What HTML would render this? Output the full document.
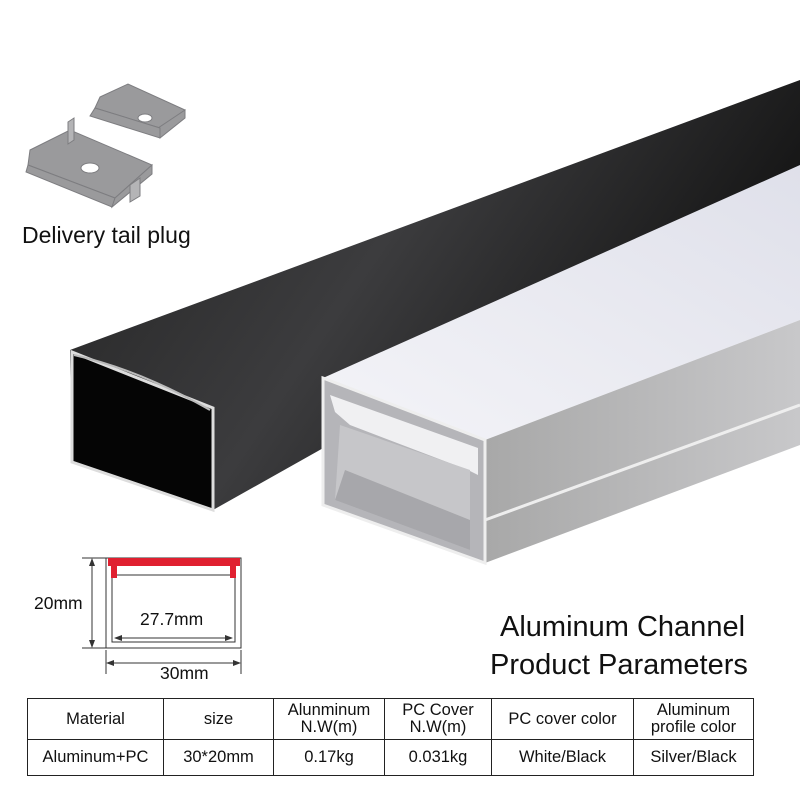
<!DOCTYPE html>
<html><head><meta charset="utf-8"><style>
html,body{margin:0;padding:0;background:#fff;}
body{width:800px;height:800px;position:relative;overflow:hidden;font-family:"Liberation Sans",sans-serif;}
.t{position:absolute;color:#111;white-space:nowrap;}
table{position:absolute;left:27px;top:698px;border-collapse:collapse;font-size:16.5px;color:#111;}
td{border:1.5px solid #222;text-align:center;padding:0;line-height:17px;white-space:nowrap;}
</style></head><body>
<svg width="800" height="800" style="position:absolute;left:0;top:0">
<defs>
<linearGradient id="bk" x1="0" y1="0" x2="1" y2="0.4"><stop offset="0" stop-color="#222"/><stop offset="0.5" stop-color="#3c3c3e"/><stop offset="1" stop-color="#111"/></linearGradient>
<linearGradient id="wc" x1="0" y1="1" x2="1" y2="0"><stop offset="0" stop-color="#f4f4f8"/><stop offset="1" stop-color="#dfe0ea"/></linearGradient>
<linearGradient id="gs" x1="0" y1="0" x2="1" y2="0"><stop offset="0" stop-color="#a8a8a8"/><stop offset="1" stop-color="#c8c8ca"/></linearGradient>
</defs>
<g fill="#9a9a9c" stroke="#7d7d80" stroke-width="1">
<polygon points="100,97 128,84 185,110 160,128 95,108"/>
<polygon points="158,128 185,110 185,118 160,138"/>
<polygon points="95,108 160,128 160,138 90,116"/>
<ellipse cx="145" cy="118" rx="7" ry="4" fill="#fff"/>
<polygon points="30,150 70,130 152,165 115,198 28,165"/>
<polygon points="28,165 115,198 112,207 26,172"/>
<polygon points="115,198 152,165 152,174 112,207"/>
<ellipse cx="90" cy="168" rx="9" ry="5" fill="#fff"/>
<polygon points="68,122 74,118 74,140 68,144" fill="#b4b4b6"/>
<polygon points="130,185 140,178 140,196 130,202" fill="#b4b4b6"/>
</g>
<polygon points="70,350 800,80 800,180 213,510 72,462" fill="url(#bk)"/>
<polygon points="72,352 213,408 213,510 72,462" fill="#050505" stroke="#ddd" stroke-width="3"/>
<path d="M74,355 Q140,370 210,410" stroke="#bbb" stroke-width="2" fill="none"/>
<polygon points="323,378 800,165 800,320 485,440" fill="url(#wc)"/>
<polygon points="485,440 800,320 800,445 485,563" fill="url(#gs)"/>
<line x1="485" y1="520" x2="800" y2="405" stroke="#eee" stroke-width="3"/>
<polygon points="323,378 485,440 485,563 323,505" fill="#b5b5b9" stroke="#eee" stroke-width="3"/>
<polygon points="330,395 478,448 478,475 468,470 350,425 335,412" fill="#f0f0f2"/>
<polygon points="340,425 470,470 470,550 335,500" fill="#c6c6c9"/>
<polygon points="345,470 470,520 470,550 335,500" fill="#a7a7ab"/>
<g stroke="#333" stroke-width="1" fill="none">
<rect x="106" y="558" width="135" height="90"/>
<rect x="112" y="575" width="123" height="67"/>
<line x1="82" y1="558" x2="106" y2="558"/><line x1="82" y1="648" x2="106" y2="648"/>
<line x1="92" y1="560" x2="92" y2="646"/>
<line x1="106" y1="650" x2="106" y2="674"/><line x1="241" y1="650" x2="241" y2="674"/>
<line x1="108" y1="663" x2="239" y2="663"/>
<line x1="115" y1="638" x2="232" y2="638"/>
</g>
<g fill="#333">
<polygon points="92,558 89,566 95,566"/><polygon points="92,648 89,640 95,640"/>
<polygon points="106,663 114,660 114,666"/><polygon points="241,663 233,660 233,666"/>
<polygon points="114,638 122,635 122,641"/><polygon points="233,638 225,635 225,641"/>
</g>
<path d="M108,558 H240 V566 H236 V578 H230 V566 H117 V578 H111 V566 H108Z" fill="#e02030"/>
</svg>
<div class="t" style="left:22px;top:222px;font-size:23px;">Delivery tail plug</div>
<div class="t" style="left:34px;top:593px;font-size:17.5px;">20mm</div>
<div class="t" style="left:140px;top:609px;font-size:17.5px;">27.7mm</div>
<div class="t" style="left:160px;top:663px;font-size:17.5px;">30mm</div>
<div class="t" style="left:500px;top:611px;font-size:29px;">Aluminum Channel</div>
<div class="t" style="left:490px;top:649px;font-size:29px;">Product Parameters</div>
<table>
<tr style="height:41px"><td style="width:135px">Material</td><td style="width:109px">size</td><td style="width:110px">Alunminum<br>N.W(m)</td><td style="width:106px">PC Cover<br>N.W(m)</td><td style="width:141px">PC cover color</td><td style="width:119px">Aluminum<br>profile color</td></tr>
<tr style="height:36px"><td>Aluminum+PC</td><td>30*20mm</td><td>0.17kg</td><td>0.031kg</td><td>White/Black</td><td>Silver/Black</td></tr>
</table>
</body></html>
